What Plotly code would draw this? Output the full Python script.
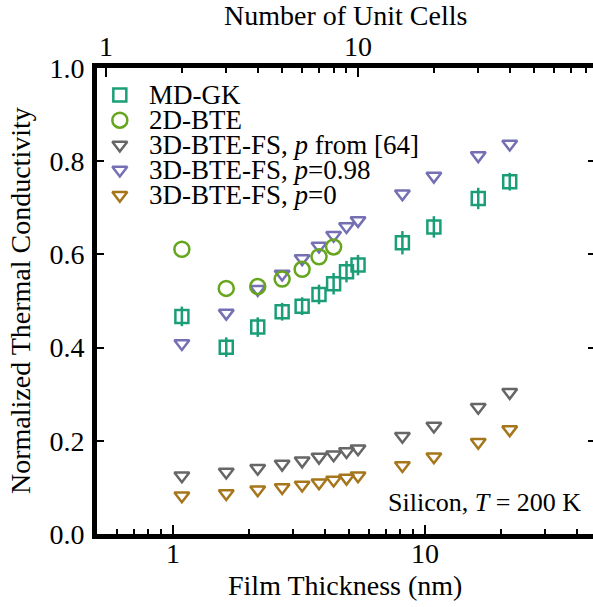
import math
import plotly.graph_objects as go

# Film thickness of each simulated slab (nm): 2-10, 15, 20, 30, 40 unit cells of Si
thickness_nm = [1.086, 1.629, 2.172, 2.715, 3.259, 3.802, 4.345, 4.888, 5.431,
                8.147, 10.862, 16.293, 21.724]
unit_cells = [2, 3, 4, 5, 6, 7, 8, 9, 10, 15, 20, 30, 40]

# Normalized thermal conductivity
md_gk = [0.467, 0.401, 0.444, 0.477, 0.489, 0.514, 0.537, 0.563, 0.577,
         0.625, 0.659, 0.720, 0.756]
md_gk_err = [0.021, 0.021, 0.021, 0.019, 0.019, 0.021, 0.023, 0.023, 0.022,
             0.025, 0.023, 0.023, 0.019]

bte2d_thickness_nm = [1.086, 1.629, 2.172, 2.715, 3.259, 3.802, 4.345]
bte2d = [0.611, 0.527, 0.531, 0.547, 0.568, 0.595, 0.616]

bte3d_p_ref = [0.125, 0.133, 0.141, 0.150, 0.157, 0.165, 0.170, 0.177, 0.183,
               0.210, 0.232, 0.272, 0.304]
bte3d_p098 = [0.409, 0.474, 0.525, 0.558, 0.591, 0.618, 0.641, 0.660, 0.673,
              0.730, 0.768, 0.812, 0.837]
bte3d_p0 = [0.082, 0.087, 0.095, 0.100, 0.105, 0.110, 0.116, 0.120, 0.125,
            0.147, 0.166, 0.197, 0.224]

# Axis settings
lattice_nm = 0.5431
x_min, x_max = 0.5, 46.5
y_ticks = [0.0, 0.2, 0.4, 0.6, 0.8, 1.0]
thick_major = [1, 10]
thick_minor = [0.6, 0.7, 0.8, 0.9, 2, 3, 4, 5, 6, 7, 8, 9, 20, 30, 40]
cells_major = [1, 10]
cells_minor = [2, 3, 4, 5, 6, 7, 8, 9, 20, 30, 40, 50, 60, 70, 80]

legend_labels = ["MD-GK", "2D-BTE", "3D-BTE-FS, <i>p</i> from [64]",
                 "3D-BTE-FS, <i>p</i>=0.98", "3D-BTE-FS, <i>p</i>=0"]

FONT = "Liberation Serif"
TEAL, GREEN, GRAY, PURPLE, BROWN = "#1b9e77", "#66a61e", "#666666", "#7570b3", "#a6761d"
LW = 2.5


def tri(color):
    return dict(symbol="triangle-down-open", size=13, color=color, line=dict(color=color, width=LW))


fig = go.Figure()

fig.add_trace(go.Scatter(x=thickness_nm, y=bte3d_p_ref, mode="markers", marker=tri(GRAY)))
fig.add_trace(go.Scatter(x=thickness_nm, y=bte3d_p0, mode="markers", marker=tri(BROWN)))
fig.add_trace(go.Scatter(x=thickness_nm, y=bte3d_p098, mode="markers", marker=tri(PURPLE)))
fig.add_trace(go.Scatter(
    x=bte2d_thickness_nm, y=bte2d, mode="markers",
    marker=dict(symbol="circle-open", size=15, color=GREEN, line=dict(color=GREEN, width=LW))))
fig.add_trace(go.Scatter(
    x=thickness_nm, y=md_gk, mode="markers",
    error_y=dict(type="data", array=md_gk_err, color=TEAL, thickness=LW, width=0),
    marker=dict(symbol="square-open", size=13, color=TEAL, line=dict(color=TEAL, width=LW))))

# Invisible companions so the unit-cell (top) and right-hand axes get drawn
fig.add_trace(go.Scatter(x=unit_cells, y=md_gk, mode="markers", xaxis="x2", yaxis="y",
                         marker=dict(opacity=0), hoverinfo="skip"))
fig.add_trace(go.Scatter(x=thickness_nm, y=md_gk, mode="markers", xaxis="x", yaxis="y2",
                         marker=dict(opacity=0), hoverinfo="skip"))

# Legend keys drawn on a hidden unit axis pair
key_styles = [
    dict(symbol="square-open", size=13, color=TEAL, line=dict(color=TEAL, width=LW)),
    dict(symbol="circle-open", size=15, color=GREEN, line=dict(color=GREEN, width=LW)),
    tri(GRAY), tri(PURPLE), tri(BROWN),
]
key_x = 0.046
key_y = [0.942, 0.888, 0.835, 0.781, 0.727]
for ky, st in zip(key_y, key_styles):
    fig.add_trace(go.Scatter(x=[key_x], y=[ky], mode="markers", marker=st,
                             xaxis="x3", yaxis="y3", hoverinfo="skip"))

txt = dict(color="black", family=FONT)
annotations = []
for ky, label in zip(key_y, legend_labels):
    annotations.append(dict(x=0.101, y=ky, xref="paper", yref="paper", text=label,
                            showarrow=False, xanchor="left", yanchor="middle",
                            font=dict(size=27, **txt)))
annotations.append(dict(x=0.98, y=0.067, xref="paper", yref="paper",
                        text="Silicon, <i>T</i> = 200 K", showarrow=False,
                        xanchor="right", yanchor="middle", font=dict(size=26, **txt)))

# Tick labels of the log axes, placed on the axes' own (log10) coordinates
for v in thick_major:
    annotations.append(dict(x=math.log10(v), y=0, xref="x", yref="paper", text=str(v),
                            showarrow=False, xanchor="center", yanchor="middle", yshift=-19,
                            font=dict(size=28, **txt)))
for v in cells_major:
    annotations.append(dict(x=math.log10(v), y=1, xref="x2", yref="paper", text=str(v),
                            showarrow=False, xanchor="center", yanchor="middle", yshift=22,
                            font=dict(size=28, **txt)))

annotations.append(dict(x=0.5, y=0, xref="paper", yref="paper", text="Film Thickness (nm)",
                        showarrow=False, xanchor="center", yanchor="middle", yshift=-51,
                        font=dict(size=28, **txt)))
annotations.append(dict(x=0.5, y=1, xref="paper", yref="paper", text="Number of Unit Cells",
                        showarrow=False, xanchor="center", yanchor="middle", yshift=53,
                        font=dict(size=28, **txt)))
annotations.append(dict(x=0, y=0.5, xref="paper", yref="paper",
                        text="Normalized Thermal Conductivity", textangle=-90,
                        showarrow=False, xanchor="center", yanchor="middle", xshift=-77,
                        font=dict(size=28, **txt)))

tick_font = dict(family=FONT, size=28, color="black")
common = dict(showgrid=False, zeroline=False, linecolor="black", tickcolor="black",
              ticks="inside", tickwidth=1.5, tickfont=tick_font)

fig.update_layout(
    width=593, height=607,
    margin=dict(l=97, r=0, t=68, b=73),
    paper_bgcolor="white", plot_bgcolor="white",
    showlegend=False,
    annotations=annotations,
    xaxis=dict(type="log", range=[math.log10(x_min), math.log10(x_max)],
               tickmode="array", tickvals=thick_major, showticklabels=False,
               ticklen=9, showline=True, linewidth=5, anchor="y",
               minor=dict(tickmode="array", tickvals=thick_minor, ticks="inside",
                          ticklen=5, tickwidth=1.5, tickcolor="black"),
               **common),
    xaxis2=dict(type="log", overlaying="x", side="top", anchor="y",
                range=[math.log10(x_min / lattice_nm), math.log10(x_max / lattice_nm)],
                tickmode="array", tickvals=cells_major, showticklabels=False,
                ticklen=9, showline=True, linewidth=5,
                minor=dict(tickmode="array", tickvals=cells_minor, ticks="inside",
                           ticklen=5, tickwidth=1.5, tickcolor="black"),
                **common),
    yaxis=dict(range=[0, 1], tickmode="array", tickvals=y_ticks,
               ticktext=[f"{v:.1f}" for v in y_ticks], ticklen=7,
               showline=True, linewidth=5, anchor="x", ticklabelstandoff=2, **common),
    yaxis2=dict(range=[0, 1], overlaying="y", side="right", anchor="x",
                tickmode="array", tickvals=[0.2, 0.4, 0.6, 0.8], ticklen=5,
                showticklabels=False, showline=False, **common),
    xaxis3=dict(overlaying="x", range=[0, 1], visible=False),
    yaxis3=dict(overlaying="y", range=[0, 1], visible=False),
)

fig.write_html("out.html")
